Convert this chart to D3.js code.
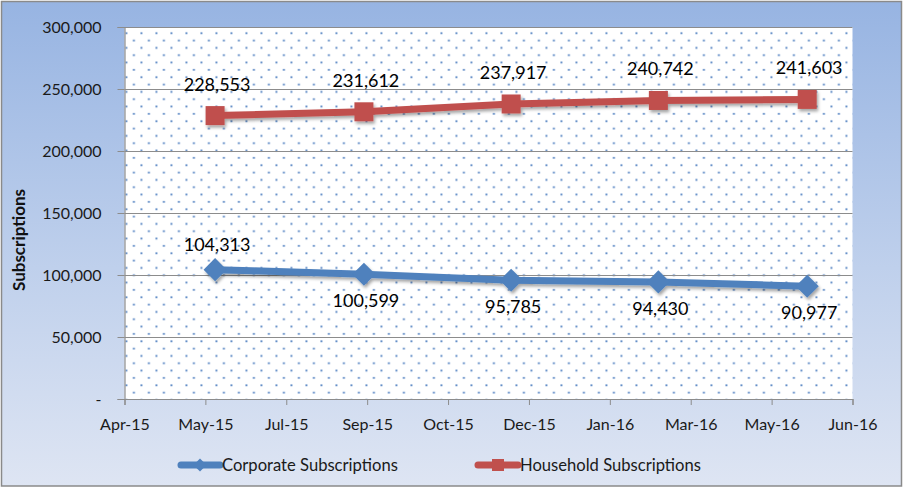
<!DOCTYPE html>
<html><head><meta charset="utf-8">
<script src="https://cdn.jsdelivr.net/npm/d3@7"></script>
<style>
html,body{margin:0;padding:0;background:#fff;}
svg{display:block;}
text{font-family:Lato, "Open Sans", sans-serif;}
</style></head>
<body>
<svg id="chart" width="905" height="488"></svg>
<script>
// ---- data ----
const pointDates = ["2015-05-31","2015-08-31","2015-11-30","2016-02-29","2016-05-31"];
const corporate = [104313,100599,95785,94430,90977];
const household = [228553,231612,237917,240742,241603];
const seriesNames = ["Corporate Subscriptions","Household Subscriptions"];
const xTickDates = ["2015-04-05","2015-05-25","2015-07-14","2015-09-02","2015-10-22","2015-12-11","2016-01-30","2016-03-20","2016-05-09","2016-06-28"];
const xTickLabels = ["Apr-15","May-15","Jul-15","Sep-15","Oct-15","Dec-15","Jan-16","Mar-16","May-16","Jun-16"];
const yTicks = [0,50000,100000,150000,200000,250000,300000];
const yTickLabels = ["-","50,000","100,000","150,000","200,000","250,000","300,000"];
const corpLabelPos = ["above","below","below","below","below"];

const parse = d3.utcParse("%Y-%m-%d");
const svg = d3.select("#chart");
const plot = {l:124.5, t:27, r:852.5, b:399};

const defs = svg.append("defs");
const bg = defs.append("linearGradient").attr("id","bg").attr("x1",0).attr("y1",0).attr("x2",0).attr("y2",1);
bg.append("stop").attr("offset","0%").attr("stop-color","#97B4E2");
bg.append("stop").attr("offset","55%").attr("stop-color","#BFD0EC");
bg.append("stop").attr("offset","100%").attr("stop-color","#DEE5F3");
const pat = defs.append("pattern").attr("id","dots").attr("patternUnits","userSpaceOnUse")
  .attr("x",plot.l).attr("y",plot.t).attr("width",15).attr("height",14.67);
pat.append("rect").attr("width",15).attr("height",14.67).attr("fill","#fff");
pat.append("rect").attr("x",1).attr("y",5.3).attr("width",1.8).attr("height",1.8).attr("fill","#4A7CBF");
pat.append("rect").attr("x",8.5).attr("y",12.6).attr("width",1.8).attr("height",1.8).attr("fill","#4A7CBF");
const sh = defs.append("filter").attr("id","shadow").attr("x","-20%").attr("y","-50%").attr("width","140%").attr("height","200%");
sh.append("feDropShadow").attr("dx",1.5).attr("dy",2.5).attr("stdDeviation",1.5).attr("flood-color","#000").attr("flood-opacity",0.35);

// background
svg.append("rect").attr("x",1.5).attr("y",1.5).attr("width",900).attr("height",484.5)
  .attr("fill","url(#bg)").attr("stroke","#8A8A8A").attr("stroke-width",1.5);

// scales
const tickDates = xTickDates.map(parse);
const x = d3.scaleUtc().domain([tickDates[0], tickDates[tickDates.length-1]]).range([plot.l, plot.r]);
const y = d3.scaleLinear().domain([0,300000]).range([plot.b, plot.t]);

// plot area
svg.append("rect").attr("x",plot.l).attr("y",plot.t).attr("width",plot.r-plot.l).attr("height",plot.b-plot.t)
  .attr("fill","url(#dots)");

// gridlines
svg.append("g").selectAll("line").data(yTicks.filter(v=>v>0)).join("line")
  .attr("x1",plot.l).attr("x2",plot.r).attr("y1",d=>Math.round(y(d))+0.5).attr("y2",d=>Math.round(y(d))+0.5)
  .attr("stroke","#8C8C8C").attr("stroke-width",1);

// y axis
const yAxis = d3.axisLeft(y).tickValues(yTicks).tickSize(7).tickPadding(16)
  .tickFormat((d,i)=>yTickLabels[i]);
const gy = svg.append("g").attr("transform",`translate(${plot.l},0)`).call(yAxis);
gy.select(".domain").attr("stroke","#8C8C8C").attr("stroke-width",1.2);
gy.selectAll(".tick line").attr("stroke","#8C8C8C");
gy.selectAll(".tick text").attr("font-size",16).attr("fill","#1a1a1a").attr("font-family","Lato, sans-serif");

// x axis
const xAxis = d3.axisBottom(x).tickValues(tickDates).tickSize(6).tickPadding(14)
  .tickFormat((d,i)=>xTickLabels[i]);
const gx = svg.append("g").attr("transform",`translate(0,${plot.b})`).call(xAxis);
gx.select(".domain").attr("stroke","#8C8C8C").attr("stroke-width",1.2);
gx.selectAll(".tick line").attr("stroke","#8C8C8C");
gx.selectAll(".tick text").attr("font-size",16).attr("fill","#1a1a1a").attr("font-family","Lato, sans-serif");

// y title
svg.append("text").attr("transform","translate(25,240) rotate(-90)").attr("text-anchor","middle")
  .attr("font-size",17).attr("font-weight","bold").attr("fill","#111").text("Subscriptions");

// series
const dates = pointDates.map(parse);
const line = d3.line().x(d=>x(d[0])).y(d=>y(d[1]));
const corpData = dates.map((d,i)=>[d,corporate[i]]);
const houseData = dates.map((d,i)=>[d,household[i]]);
const blue = "#4F81BD", red = "#C0504D";

const gS = svg.append("g").attr("filter","url(#shadow)");
gS.append("path").datum(houseData).attr("d",line).attr("fill","none").attr("stroke",red).attr("stroke-width",7);
gS.append("path").datum(corpData).attr("d",line).attr("fill","none").attr("stroke",blue).attr("stroke-width",7);
gS.selectAll("rect.sq").data(houseData).join("rect").attr("class","sq")
  .attr("x",d=>x(d[0])-9.5).attr("y",d=>y(d[1])-9.5).attr("width",19).attr("height",19).attr("fill",red);
const diamond = d3.symbol().type(d3.symbolDiamond2).size(340);
gS.selectAll("path.dm").data(corpData).join("path").attr("class","dm")
  .attr("transform",d=>`translate(${x(d[0])},${y(d[1])})`).attr("d",diamond).attr("fill",blue);

// labels
const fmt = d3.format(",");
svg.append("g").selectAll("text").data(houseData).join("text")
  .attr("x",d=>x(d[0])+2).attr("y",d=>y(d[1])-25).attr("text-anchor","middle")
  .attr("font-size",18).attr("fill","#000").text(d=>fmt(d[1]));
svg.append("g").selectAll("text").data(corpData).join("text")
  .attr("x",d=>x(d[0])+2).attr("y",(d,i)=>corpLabelPos[i]==="above"? y(d[1])-19 : y(d[1])+33)
  .attr("text-anchor","middle").attr("font-size",18).attr("fill","#000").text(d=>fmt(d[1]));

// legend
const lg = svg.append("g");
lg.append("line").attr("x1",181).attr("x2",220).attr("y1",465).attr("y2",465).attr("stroke",blue).attr("stroke-width",7).attr("stroke-linecap","round");
lg.append("path").attr("transform","translate(200,465)").attr("d",d3.symbol().type(d3.symbolDiamond2).size(110)).attr("fill",blue);
lg.append("text").attr("x",222).attr("y",470.5).attr("font-size",16.6).attr("fill","#1a1a1a").text(seriesNames[0]);
lg.append("line").attr("x1",478).attr("x2",518).attr("y1",465).attr("y2",465).attr("stroke",red).attr("stroke-width",7).attr("stroke-linecap","round");
lg.append("rect").attr("x",492).attr("y",459).attr("width",12).attr("height",12).attr("fill",red);
lg.append("text").attr("x",520).attr("y",470.5).attr("font-size",16.6).attr("fill","#1a1a1a").text(seriesNames[1]);
</script>
</body></html>
